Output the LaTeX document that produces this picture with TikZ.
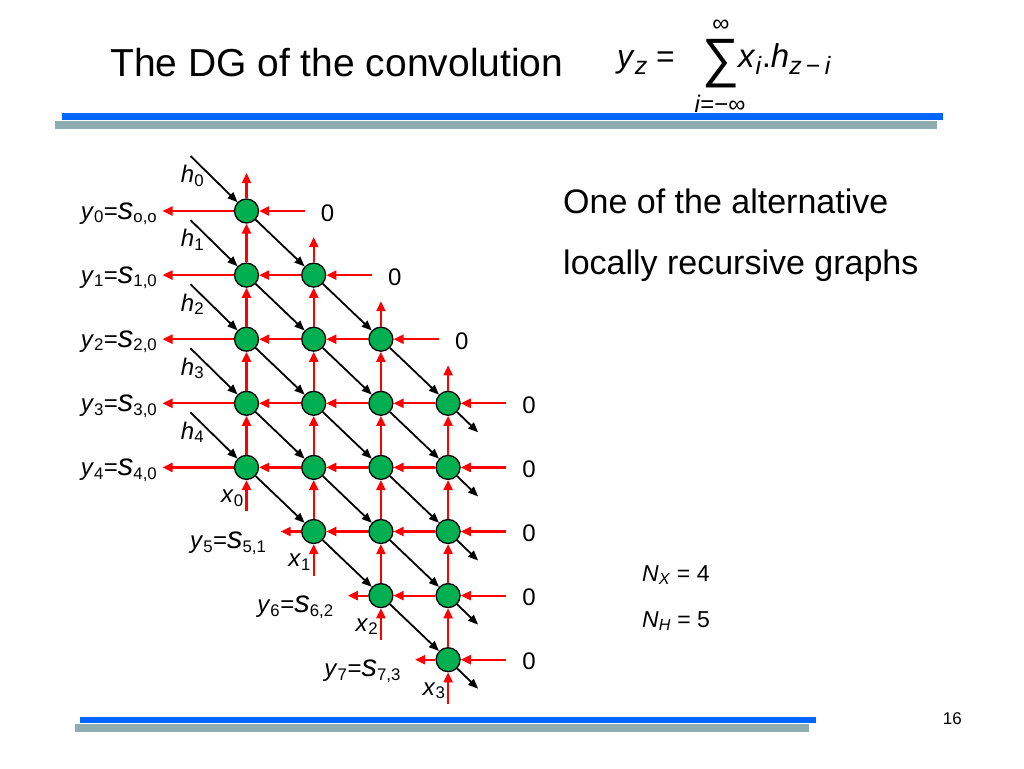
\documentclass[tikz,border=0pt]{standalone}
\usepackage{fontspec}
\setmainfont{Liberation Sans}
\usepackage{tikz}
\usetikzlibrary{calc}
\usetikzlibrary{arrows.meta}
\definecolor{pegreen}{RGB}{0,176,80}
\definecolor{barblue}{RGB}{0,102,255}
\definecolor{bargray}{RGB}{143,172,175}
\def\colstep{67.2}
\def\rowstep{64.1}
\newcommand{\varsub}[2]{\textit{#1}\textsubscript{#2}}
\newcommand{\fsub}[1]{\raisebox{-7pt}{\fontsize{25}{25}\selectfont #1}}
\newcommand{\outlbl}[2]{\varsub{y}{#1}=\textit{\fontsize{31}{31}\selectfont s}\textsubscript{#2}}

\tikzset{
  pe/.style={circle, draw=black, fill=pegreen, line width=1.3pt, minimum size=24pt, inner sep=0pt},
  redflow/.style={red, line width=2.2pt, -{Triangle[length=10pt, width=9pt]}},
  blackflow/.style={black, line width=1.8pt, -{Triangle[length=10pt, width=8pt]}},
  lbl/.style={inner sep=0pt, font=\fontsize{24}{28}\selectfont},
}

\begin{document}
\begin{tikzpicture}[x=1pt, y=-1pt]
\useasboundingbox (0,0) rectangle (1024,768);

% TITLE
\node[anchor=base west, inner sep=0pt, font=\fontsize{39}{45}\selectfont] (title) at (110,77) {The DG of the convolution};
% formula
\node[anchor=base west, inner sep=0pt, font=\fontsize{32}{36}\selectfont] (yz) at (617,67) {\textit{y}\fsub{\textit{z}} =};
\node[inner sep=0pt, font=\fontsize{45}{50}\selectfont] (sum) at (721,64) {\scalebox{1.15}[1.2]{∑}};
\node[inner sep=0pt, font=\fontsize{24}{28}\selectfont] (sumtop) at (721,26) {∞};
\node[inner sep=0pt, font=\fontsize{24}{28}\selectfont] (sumbot) at (720,104) {\textit{i}=−∞};
\node[anchor=base west, inner sep=0pt, font=\fontsize{33}{37}\selectfont] (xh) at (738,67) {\textit{x}\fsub{\textit{i}}.\textit{h}\fsub{\textit{z}\,−\,\textit{i}}};
% bars
\fill[bargray] (55,120.5) rectangle (937,129);
\fill[barblue] (62,112.5) rectangle (943,119.5);
\fill[bargray] (75,724) rectangle (809,732);
\fill[barblue] (80,717) rectangle (816,723);

% PROCESSING ELEMENTS
\foreach \c in {0,...,3}
  \foreach \j in {0,...,4} {
    \pgfmathtruncatemacro{\row}{\c+\j}
    \node[pe] (n-\row-\c) at ({246.5+\c*\colstep}, {211+\row*\rowstep}) {};
  }

% DIAGONAL FLOW OF h
\foreach \j in {0,...,4} {
  % input
  \coordinate (hin-\j) at ($(n-\j-0) + (-56,-55)$);
  \draw[blackflow] (hin-\j) -- (n-\j-0);
  \node[lbl] (hlbl-\j) at ($(n-\j-0) + (-54,-35)$) {\varsub{h}{\j}};
  % inner edges
  \foreach \c in {0,1,2} {
    \pgfmathtruncatemacro{\row}{\j+\c}
    \pgfmathtruncatemacro{\nrow}{\j+\c+1}
    \pgfmathtruncatemacro{\ncol}{\c+1}
    \draw[blackflow] (n-\row-\c) -- (n-\nrow-\ncol);
  }
  % output
  \pgfmathtruncatemacro{\row}{\j+3}
  \coordinate (hout-\j) at ($(n-\row-3) + (30,29)$);
  \draw[blackflow] (n-\row-3) -- (hout-\j);
}

% VERTICAL FLOW OF x
\foreach \c in {0,...,3} {
  % input
  \pgfmathtruncatemacro{\lowrow}{\c+4}
  \coordinate (xin-\c) at ($(n-\lowrow-\c) + (0,44)$);
  \draw[redflow] (xin-\c) -- (n-\lowrow-\c);
  \node[lbl] (xlbl-\c) at ($(n-\lowrow-\c) + (-14,31)$) {\varsub{x}{\c}};
  % inner edges
  \foreach \j in {1,...,4} {
    \pgfmathtruncatemacro{\row}{\c+\j}
    \pgfmathtruncatemacro{\prow}{\c+\j-1}
    \draw[redflow] (n-\row-\c) -- (n-\prow-\c);
  }
  % output
  \coordinate (xout-\c) at ($(n-\c-\c) + (0,-38)$);
  \draw[redflow] (n-\c-\c) -- (xout-\c);
}

% HORIZONTAL FLOW OF y
% zero inputs
\foreach \row in {0,...,7} {
  \pgfmathtruncatemacro{\rcol}{min(3,\row)}
  \coordinate (zin-\row) at ($(n-\row-\rcol) + (58,0)$);
  \draw[redflow] (zin-\row) -- (n-\row-\rcol);
  \node[lbl] (zlbl-\row) at ($(n-\row-\rcol) + (81,2)$) {0};
}
% inner edges
\foreach \c in {1,2,3}
  \foreach \j in {0,...,3} {
    \pgfmathtruncatemacro{\row}{\c+\j}
    \pgfmathtruncatemacro{\pcol}{\c-1}
    \draw[redflow] (n-\row-\c) -- (n-\row-\pcol);
  }
% outputs
\foreach \row in {0,...,4} {
  \coordinate (yout-\row) at ($(n-\row-0) + (-84,0)$);
  \draw[redflow] (n-\row-0) -- (yout-\row);
  \node[lbl, anchor=base east] (ylbl-\row) at ($(yout-\row) + (-5,8)$)
    {\outlbl{\row}{\ifnum\row=0 o,o\else\row,0\fi}};
}
\foreach \row in {5,6,7} {
  \pgfmathtruncatemacro{\lcol}{\row-4}
  \coordinate (yout-\row) at ($(n-\row-\lcol) + (-33,0)$);
  \draw[redflow] (n-\row-\lcol) -- (yout-\row);
  \node[lbl, anchor=base east] (ylbl-\row) at ($(yout-\row) + (-14,17)$)
    {\outlbl{\row}{\row,\lcol}};
}

% NOTES
\node[anchor=base west, inner sep=0pt, font=\fontsize{34}{39}\selectfont] (note1) at (563,213) {One of the alternative};
\node[anchor=base west, inner sep=0pt, font=\fontsize{34}{39}\selectfont] (note2) at (563,274) {locally recursive graphs};
\node[anchor=base west, inner sep=0pt, font=\fontsize{23}{27}\selectfont] (nx) at (642,581) {\textit{N}\textsubscript{\textit{X}} = 4};
\node[anchor=base west, inner sep=0pt, font=\fontsize{23}{27}\selectfont] (nh) at (642,627) {\textit{N}\textsubscript{\textit{H}} = 5};
\node[anchor=base east, inner sep=0pt, font=\fontsize{17}{20}\selectfont] (page) at (962,724) {16};

\end{tikzpicture}
\end{document}
